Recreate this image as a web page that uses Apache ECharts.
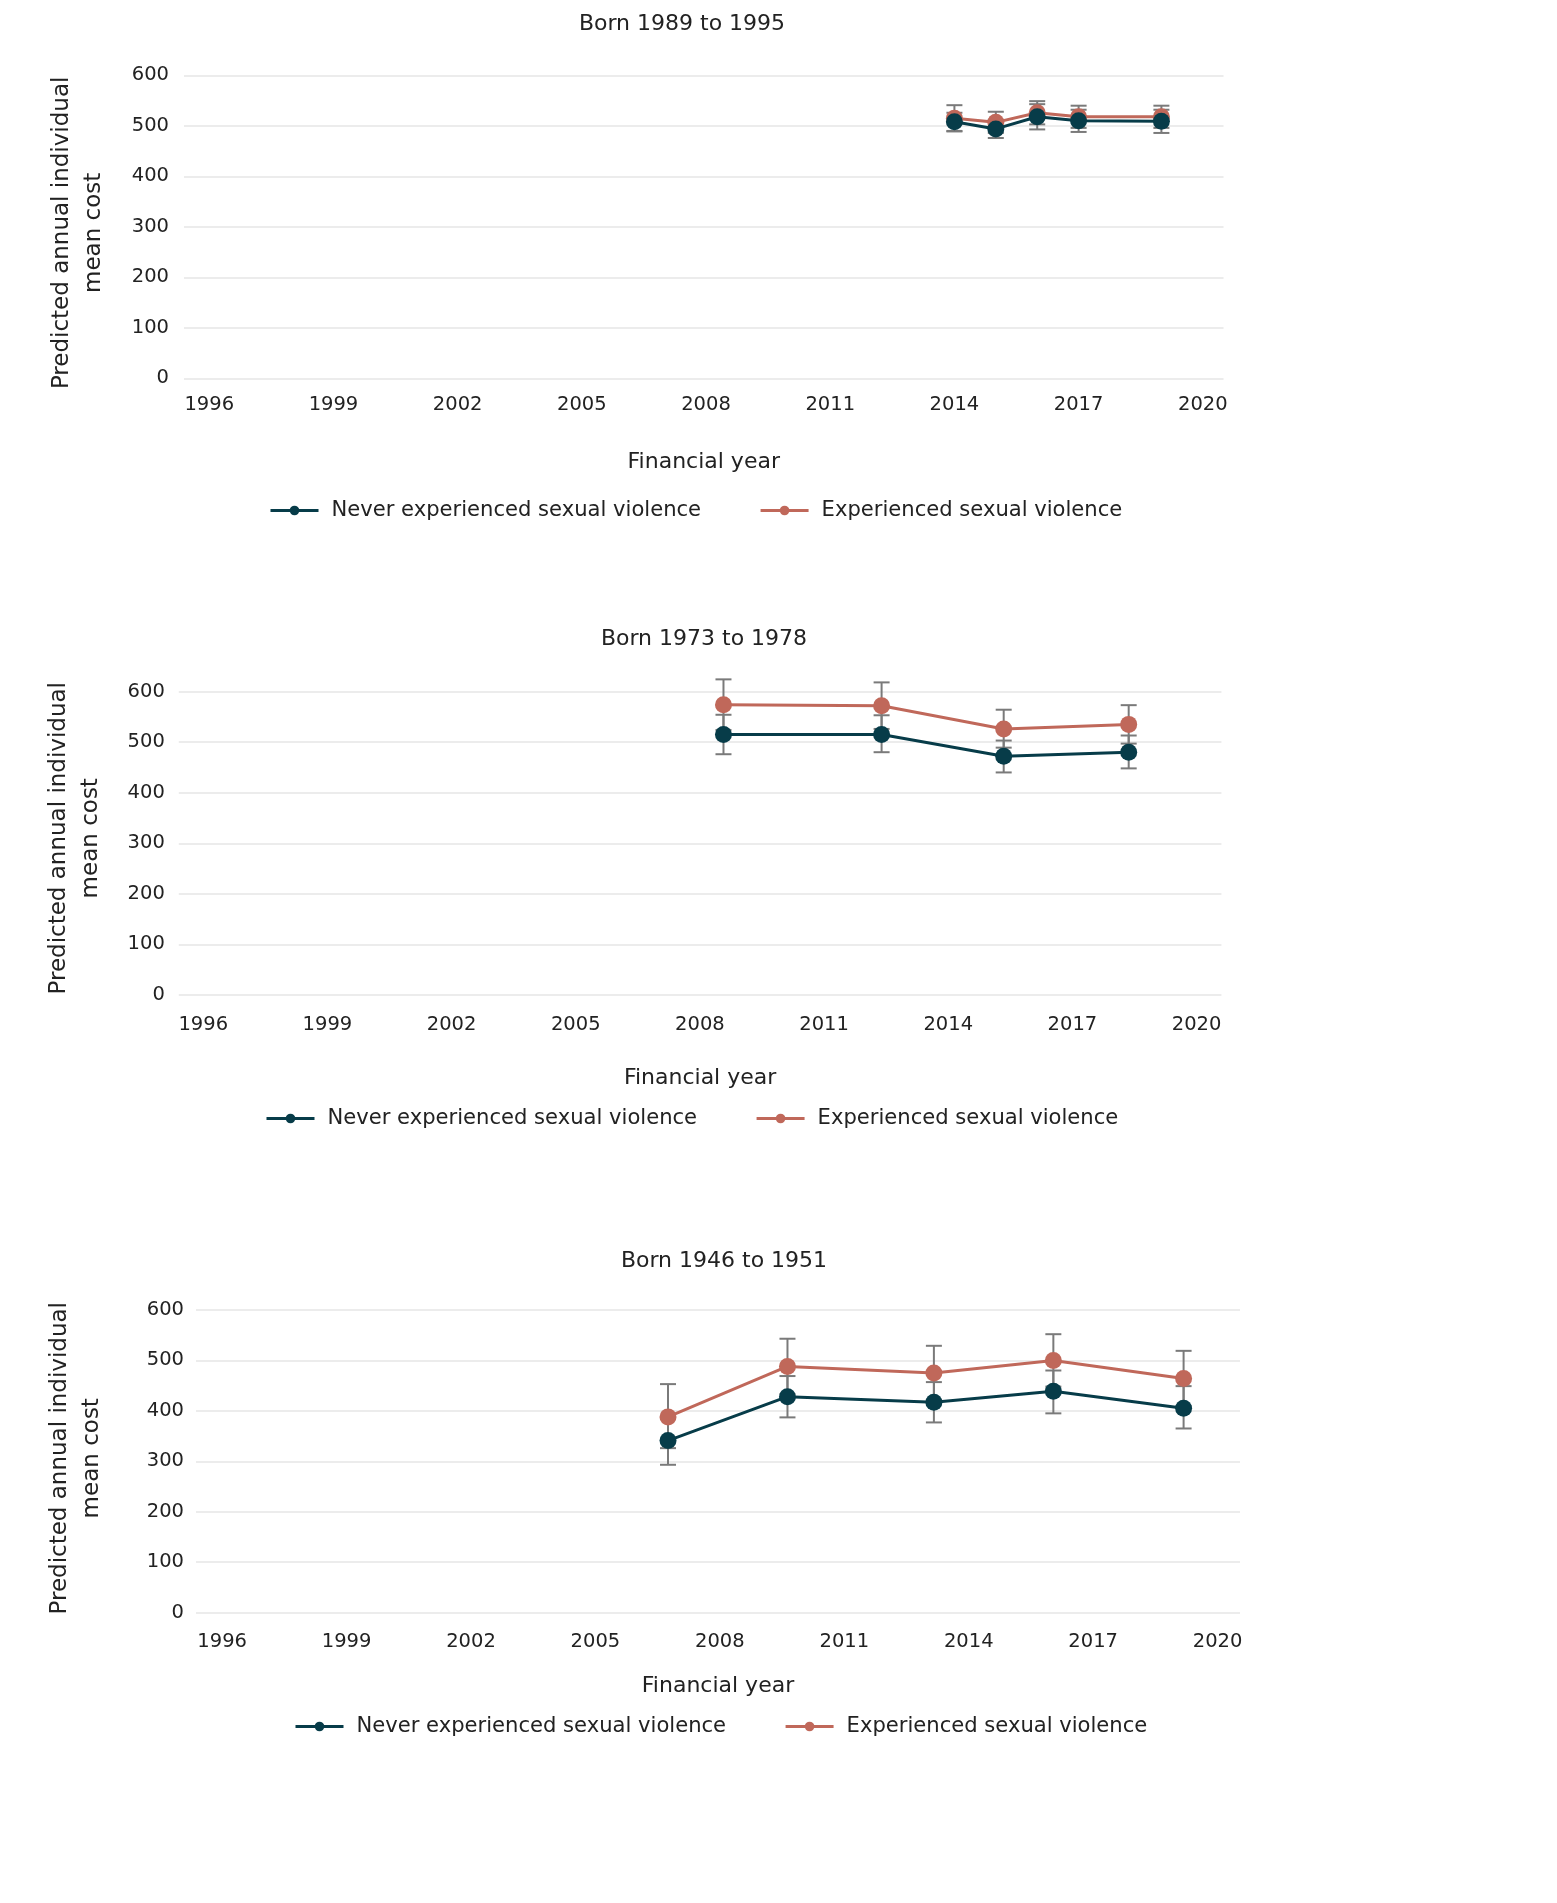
<!DOCTYPE html>
<html>
<head>
<meta charset="utf-8">
<script src="https://cdn.jsdelivr.net/npm/echarts@6/dist/echarts.min.js"></script>
<style>
html,body{margin:0;padding:0;background:#fff;}
#c{width:1557px;height:1903px;}
</style>
</head>
<body>
<div id="c"></div>
<script>
// ---- Data ----
const seriesNames = ['Never experienced sexual violence', 'Experienced sexual violence'];
const chartTitles = ['Born 1989 to 1995', 'Born 1973 to 1978', 'Born 1946 to 1951'];
const xTicks = [1996, 1999, 2002, 2005, 2008, 2011, 2014, 2017, 2020];
const yTicks = [0, 100, 200, 300, 400, 500, 600];

// Born 1989 to 1995
const yearsA = [2014, 2015, 2016, 2017, 2019];
const neverA = [508, 494, 518, 510, 509];
const neverALow = [490, 476, 493, 488, 486];
const neverAHigh = [526, 512, 543, 532, 532];
const expA = [515, 507, 526, 518, 518];
const expALow = [489, 486, 503, 496, 496];
const expAHigh = [541, 528, 549, 540, 540];

// Born 1973 to 1978
const yearsB = [2008.57, 2012.39, 2015.34, 2018.36];
const neverB = [515, 515, 472, 480];
const neverBLow = [476, 480, 440, 448];
const neverBHigh = [554, 553, 503, 513];
const expB = [574, 572, 526, 535];
const expBLow = [524, 526, 489, 497];
const expBHigh = [624, 618, 564, 573];

// Born 1946 to 1951
const yearsC = [2006.75, 2009.63, 2013.16, 2016.04, 2019.18];
const neverC = [341, 428, 417, 439, 405];
const neverCLow = [293, 387, 377, 395, 365];
const neverCHigh = [389, 469, 457, 480, 449];
const expC = [388, 488, 475, 500, 464];
const expCLow = [326, 433, 422, 448, 409];
const expCHigh = [453, 543, 529, 552, 519];

// ---- Style / layout ----
const FONT = '"DejaVu Sans", Verdana, sans-serif';
const TXT = '#222222';
const C_NEVER = '#073c49';
const C_EXP = '#c0685a';
const C_ERR = '#7a7a7a';
const GRIDLINE = '#ececec';

const panels = [
  {title: chartTitles[0], titleX: 682, titleY: 13, grid: {left: 184, top: 75.4, width: 1039.5, height: 302.9},
   xMin: 1995.39, xMax: 2020.5, xLabelMargin: 16.5, xNameGap: 72.5, yNameGap: 74, yLabelMargin: 15,
   yNamePad: [0, 12, 0, 0],
   legendLeft: 264, legendTop: 495,
   years: yearsA, never: neverA, neverLo: neverALow, neverHi: neverAHigh, exp: expA, expLo: expALow, expHi: expAHigh},
  {title: chartTitles[1], titleX: 704, titleY: 628, grid: {left: 178.8, top: 691.5, width: 1042.6, height: 303.5},
   xMin: 1995.41, xMax: 2020.6, xLabelMargin: 19.5, xNameGap: 72.5, yNameGap: 72, yLabelMargin: 14,
   yNamePad: [0, 0, 0, 10],
   legendLeft: 260, legendTop: 1103,
   years: yearsB, never: neverB, neverLo: neverBLow, neverHi: neverBHigh, exp: expB, expLo: expBLow, expHi: expBHigh},
  {title: chartTitles[2], titleX: 724, titleY: 1250, grid: {left: 196, top: 1310, width: 1044, height: 302.5},
   xMin: 1995.37, xMax: 2020.54, xLabelMargin: 19.5, xNameGap: 63, yNameGap: 88, yLabelMargin: 12,
   yNamePad: [0, 0, 0, 6],
   legendLeft: 289, legendTop: 1711,
   years: yearsC, never: neverC, neverLo: neverCLow, neverHi: neverCHigh, exp: expC, expLo: expCLow, expHi: expCHigh}
];

function renderErr(params, api) {
  const x = api.value(0), lo = api.value(1), hi = api.value(2);
  const p1 = api.coord([x, hi]);
  const p2 = api.coord([x, lo]);
  const w = 8;
  const style = {stroke: C_ERR, lineWidth: 2, fill: null};
  return {
    type: 'group',
    children: [
      {type: 'line', shape: {x1: p1[0], y1: p1[1], x2: p2[0], y2: p2[1]}, style: style},
      {type: 'line', shape: {x1: p1[0] - w, y1: p1[1], x2: p1[0] + w, y2: p1[1]}, style: style},
      {type: 'line', shape: {x1: p2[0] - w, y1: p2[1], x2: p2[0] + w, y2: p2[1]}, style: style}
    ]
  };
}

const option = {
  animation: false,
  backgroundColor: '#ffffff',
  textStyle: {fontFamily: FONT},
  title: [], grid: [], xAxis: [], yAxis: [], legend: [], series: []
};

panels.forEach(function (p, i) {
  option.title.push({
    text: p.title, left: p.titleX, top: p.titleY, textAlign: 'center', padding: 0,
    textStyle: {fontFamily: FONT, fontSize: 22, fontWeight: 'normal', color: TXT}
  });
  option.grid.push(Object.assign({containLabel: false}, p.grid));
  option.xAxis.push({
    type: 'value', gridIndex: i, min: p.xMin, max: p.xMax,
    name: 'Financial year', nameLocation: 'middle', nameGap: p.xNameGap,
    nameTextStyle: {fontFamily: FONT, fontSize: 22, color: TXT},
    axisLine: {show: false}, axisTick: {show: false}, splitLine: {show: false},
    axisLabel: {customValues: xTicks, margin: p.xLabelMargin, fontFamily: FONT, fontSize: 19.5, color: TXT,
      formatter: function (v) { return String(Math.round(v)); }}
  });
  option.yAxis.push({
    type: 'value', gridIndex: i, min: yTicks[0], max: yTicks[yTicks.length - 1], interval: 100,
    name: 'Predicted annual individual\nmean cost', nameLocation: 'middle', nameGap: p.yNameGap,
    nameTextStyle: {fontFamily: FONT, fontSize: 23, color: TXT, lineHeight: 32, padding: p.yNamePad},
    axisLine: {show: false}, axisTick: {show: false},
    splitLine: {show: true, lineStyle: {color: GRIDLINE, width: 2}},
    axisLabel: {margin: p.yLabelMargin, fontFamily: FONT, fontSize: 19.5, color: TXT}
  });
  option.legend.push({
    data: seriesNames, left: p.legendLeft, top: p.legendTop, itemWidth: 48, itemHeight: 12, itemGap: 58,
    lineStyle: {width: 3},
    textStyle: {fontFamily: FONT, fontSize: 21.1, color: TXT, padding: [0, 0, 0, 8]}
  });
  const errNever = p.years.map(function (y, k) { return [y, p.neverLo[k], p.neverHi[k]]; });
  const errExp = p.years.map(function (y, k) { return [y, p.expLo[k], p.expHi[k]]; });
  option.series.push({
    type: 'custom', name: 'err-exp-' + i, xAxisIndex: i, yAxisIndex: i, z: 1,
    renderItem: renderErr, encode: {x: 0, y: [1, 2]}, data: errExp
  });
  option.series.push({
    type: 'custom', name: 'err-never-' + i, xAxisIndex: i, yAxisIndex: i, z: 1,
    renderItem: renderErr, encode: {x: 0, y: [1, 2]}, data: errNever
  });
  option.series.push({
    type: 'line', name: seriesNames[1], xAxisIndex: i, yAxisIndex: i, z: 3,
    symbol: 'circle', symbolSize: 17, showSymbol: true,
    lineStyle: {color: C_EXP, width: 3}, itemStyle: {color: C_EXP},
    data: p.years.map(function (y, k) { return [y, p.exp[k]]; })
  });
  option.series.push({
    type: 'line', name: seriesNames[0], xAxisIndex: i, yAxisIndex: i, z: 4,
    symbol: 'circle', symbolSize: 17, showSymbol: true,
    lineStyle: {color: C_NEVER, width: 3}, itemStyle: {color: C_NEVER},
    data: p.years.map(function (y, k) { return [y, p.never[k]]; })
  });
});

const chart = echarts.init(document.getElementById('c'), null, {renderer: 'canvas'});
chart.setOption(option);
</script>
</body>
</html>
